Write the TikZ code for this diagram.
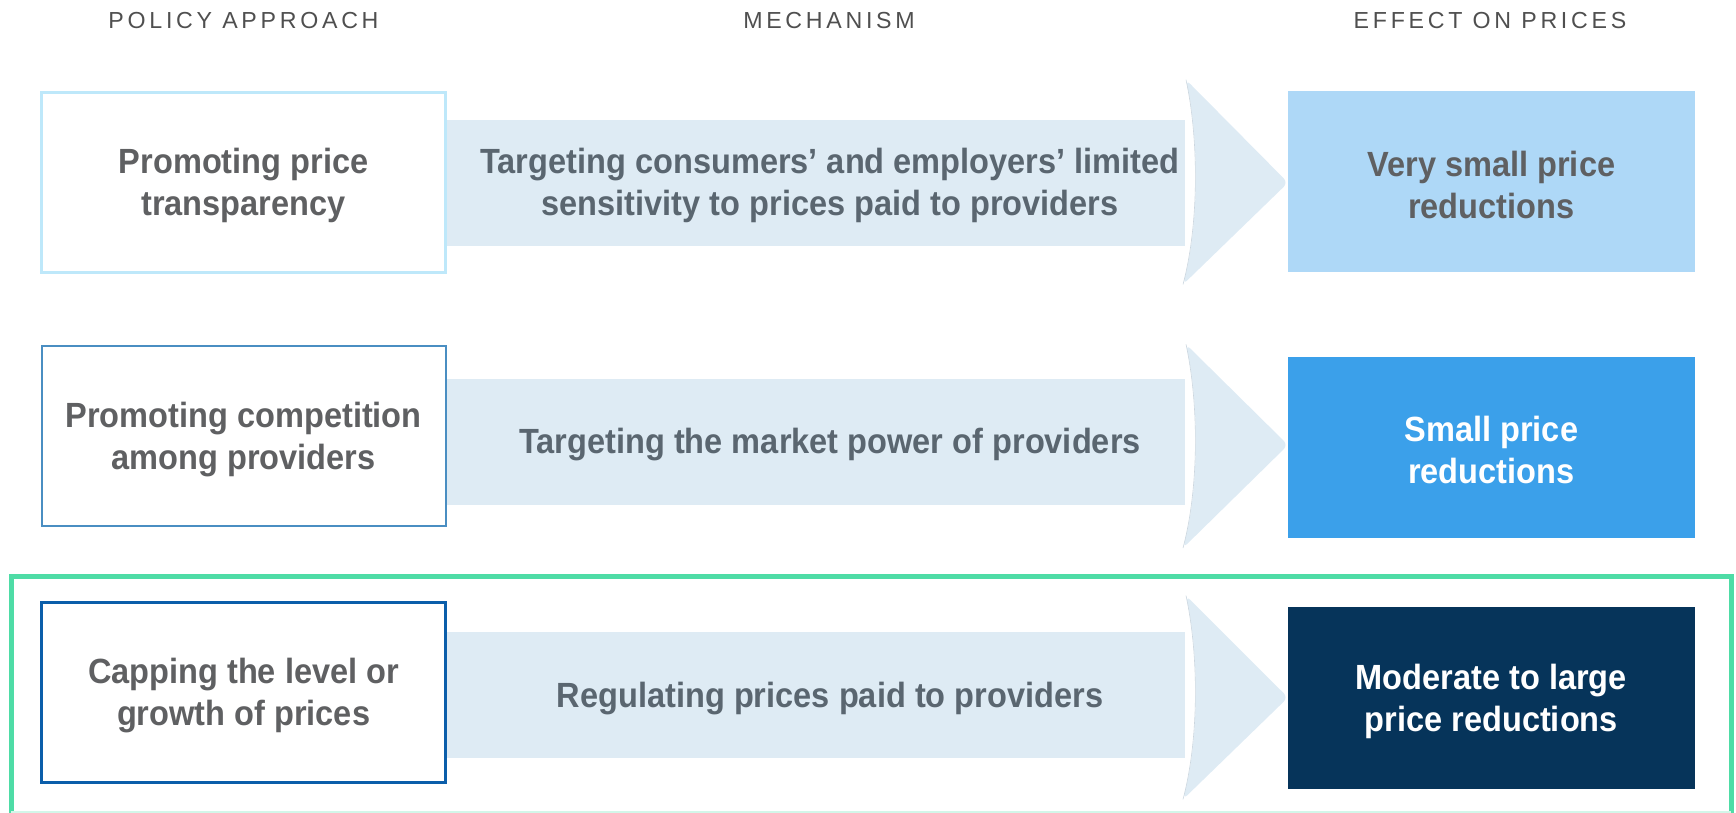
\documentclass[tikz,border=0pt]{standalone}
\usepackage{fontspec}
\setmainfont{Liberation Sans}
\newfontfamily\bodyf{Liberation Sans}[FakeStretch=0.93]
\newfontfamily\headf{Liberation Sans}[LetterSpace=16]
\definecolor{txtgray}{HTML}{5F6062}
\definecolor{mechtxt}{HTML}{5A6670}
\definecolor{arrowc}{HTML}{DEEBF4}
\definecolor{arrowedge}{HTML}{CBD6DF}
\definecolor{bordA}{HTML}{BEE8FA}
\definecolor{bordB}{HTML}{4A8EC2}
\definecolor{bordC}{HTML}{0B5EAA}
\definecolor{fillA}{HTML}{AED8F7}
\definecolor{fillB}{HTML}{3BA0EA}
\definecolor{fillC}{HTML}{06345A}
\definecolor{framegreen}{HTML}{4EDCA6}
\definecolor{headc}{HTML}{4F4F4F}
\tikzset{
  txt/.style={font=\bodyf\bfseries\fontsize{17.5}{21}\selectfont, align=center},
  leftbox/.style={txt, draw, fill=white, text=txtgray, minimum width=202pt, minimum height=90pt, inner sep=0pt},
  rightbox/.style={txt, minimum width=203.7pt, minimum height=90.8pt, inner sep=0pt},
  bodybox/.style={fill=arrowc, minimum width=369pt, minimum height=63pt, inner sep=0pt},
  mech/.style={txt, text=mechtxt},
  lbl/.style={yshift=-1.5pt},
  header/.style={font=\headf\fontsize{11.6}{14}\selectfont, text=headc},
  headshape/.style={fill=arrowc, rounded corners=3pt},
  headbase/.style={draw=arrowedge, line width=0.3pt}
}
\newcommand\arrhead[3]{%
  \path[headshape] (1186,#1) .. controls (1199,{#1+60}) and (1199,{#2-60}) .. (1183,#2) -- (1288,#3) -- cycle;
  \path[headbase] (1186,#1) .. controls (1199,{#1+60}) and (1199,{#2-60}) .. (1183,#2);}
\begin{document}
\begin{tikzpicture}[x=0.5pt,y=-0.5pt]
\useasboundingbox (0,0) rectangle (1736,813);
% headers
\node[header] (h1) at (243.5,21) {POLICY APPROACH};
\node[header] (h2) at (829,21) {MECHANISM};
\node[header] (h3) at (1490,21) {EFFECT ON PRICES};
% green frame
\draw[framegreen, line width=2.5pt] (11,815) -- (11,576) -- (1731,576) -- (1731,815);
\draw[framegreen!25, line width=1pt] (11,812) -- (1731,812);
% row 1
\node[bodybox] (ar1) at (816,182.7) {};
\arrhead{79.7}{284.5}{182.7}
\node[leftbox, draw=bordA, line width=1.5pt] (lb1) at (243.6,182.7) {};
\node[txt, text=txtgray, lbl] (lt1) at (lb1) {Promoting price\\transparency};
\node[mech, lbl] (mt1) at (830,182.7) {Targeting consumers’ and employers’ limited\\sensitivity to prices paid to providers};
\node[rightbox, fill=fillA] (rb1) at (1491.3,181.6) {};
\node[txt, text=txtgray, lbl] (rt1) at (rb1) {Very small price\\reductions};
% row 2
\node[bodybox] (ar2) at (816,441.7) {};
\arrhead{344.3}{548}{445}
\node[leftbox, draw=bordB, line width=1pt] (lb2) at (243.6,436.2) {};
\node[txt, text=txtgray, lbl] (lt2) at (lb2) {Promoting competition\\among providers};
\node[mech, lbl] (mt2) at (830,441.7) {Targeting the market power of providers};
\node[rightbox, fill=fillB] (rb2) at (1491.3,447.3) {};
\node[txt, text=white, lbl] (rt2) at (rb2) {Small price\\reductions};
% row 3
\node[bodybox] (ar3) at (816,695.3) {};
\arrhead{595.6}{799.4}{697.5}
\node[leftbox, draw=bordC, line width=1.3pt] (lb3) at (243.6,692.5) {};
\node[txt, text=txtgray, lbl] (lt3) at (lb3) {Capping the level or\\growth of prices};
\node[mech, lbl] (mt3) at (830,695.3) {Regulating prices paid to providers};
\node[rightbox, fill=fillC] (rb3) at (1491.3,698) {};
\node[txt, text=white, lbl] (rt3) at (rb3) {Moderate to large\\price reductions};
\end{tikzpicture}
\end{document}
